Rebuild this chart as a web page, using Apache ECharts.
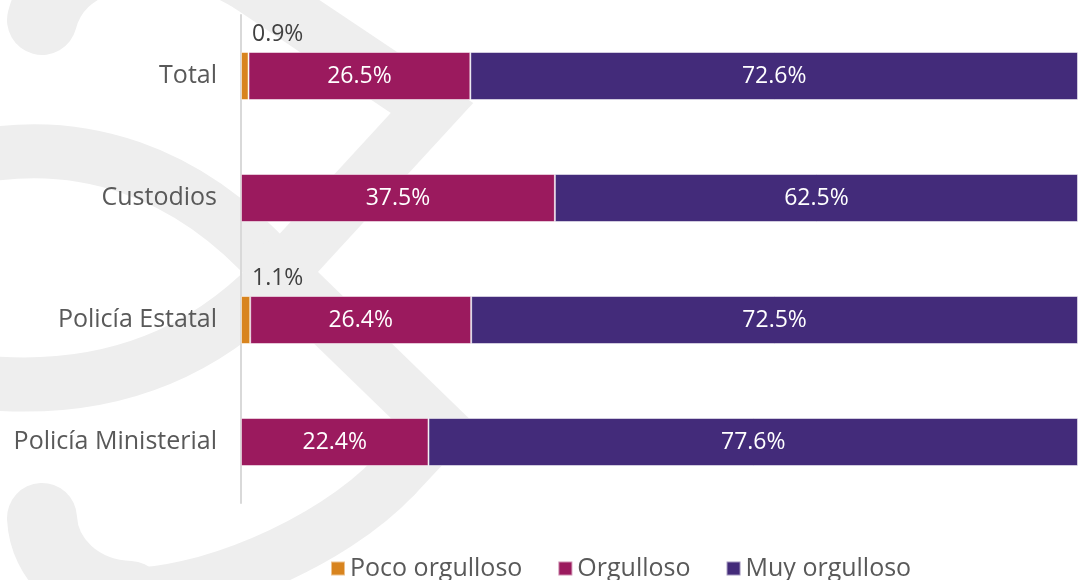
<!DOCTYPE html>
<html>
<head>
<meta charset="utf-8">
<script src="https://cdn.jsdelivr.net/npm/echarts@6/dist/echarts.min.js"></script>
<style>
  html, body { margin: 0; padding: 0; background: #ffffff; }
  #chart { width: 1078px; height: 580px; }
</style>
</head>
<body>
<div id="chart"></div>
<script>
// Categories (top to bottom) and percentage shares per response
const categories = ['Total', 'Custodios', 'Policía Estatal', 'Policía Ministerial'];
const seriesNames = ['Poco orgulloso', 'Orgulloso', 'Muy orgulloso'];
const pocoOrgulloso = [0.9, null, 1.1, null];
const orgulloso = [26.5, 37.5, 26.4, 22.4];
const muyOrgulloso = [72.6, 62.5, 72.5, 77.6];

const colors = ['#d8841e', '#9b1a5e', '#432b7a'];
const fontFamily = '"Open Sans", "Noto Sans", sans-serif';
const pct = p => (p.value == null ? '' : p.value.toFixed(1) + '%');

const chart = echarts.init(document.getElementById('chart'), null, { renderer: 'canvas' });

// Light decorative emblem behind the plot, built from thick curve strokes
const emblemColor = '#eeeeee';
function curve(x1, y1, cpx1, cpy1, cpx2, cpy2, x2, y2, w) {
  return { type: 'bezierCurve', z: -10, silent: true,
    shape: { x1, y1, cpx1, cpy1, cpx2, cpy2, x2, y2 },
    style: { stroke: emblemColor, lineWidth: w || 54, fill: null, lineCap: 'round' } };
}
function bend(points) {
  return { type: 'polyline', z: -10, silent: true, shape: { points },
    style: { stroke: emblemColor, lineWidth: 54, fill: null, lineCap: 'round', lineJoin: 'miter' } };
}
const emblem = [
  curve(42, 20, 50, -10, 70, -30, 110, -44, 70),
  curve(100, -46, 150, -58, 215, -36, 250, -14),
  bend([[250, -14], [432, 108], [272, 282]]),
  curve(272, 282, 215, 340, 120, 402, -40, 380),
  curve(-40, 160, 80, 132, 190, 172, 275, 268),
  bend([[275, 268], [440, 428], [395, 476]]),
  curve(395, 476, 330, 545, 200, 598, 120, 595),
  curve(130, 596, 80, 594, 44, 560, 42, 518, 70)
];

const barBorder = { borderColor: 'rgba(255,255,255,0.5)', borderWidth: 1 };

chart.setOption({
  animation: false,
  backgroundColor: '#ffffff',
  graphic: { elements: emblem },
  grid: { left: 241, right: 0, top: 15, bottom: 77, containLabel: false },
  legend: {
    left: 325,
    top: 551,
    itemWidth: 14,
    itemHeight: 14,
    itemGap: 35,
    icon: 'rect',
    textStyle: { color: '#595959', fontSize: 25, fontFamily: fontFamily },
    data: seriesNames
  },
  xAxis: {
    type: 'value', min: 0, max: 100,
    show: false
  },
  yAxis: {
    type: 'category',
    data: categories,
    inverse: true,
    axisLine: { show: true, lineStyle: { color: '#d9d9d9', width: 2 } },
    axisTick: { show: false },
    axisLabel: { color: '#595959', fontSize: 25, fontFamily: fontFamily, margin: 24 }
  },
  series: [
    {
      name: seriesNames[0], type: 'bar', stack: 'total', barWidth: 48,
      data: pocoOrgulloso,
      itemStyle: Object.assign({ color: colors[0] }, barBorder),
      label: {
        show: true, formatter: pct, position: [11, -6],
        align: 'left', verticalAlign: 'bottom',
        color: '#404040', fontSize: 23, fontFamily: fontFamily
      }
    },
    {
      name: seriesNames[1], type: 'bar', stack: 'total', barWidth: 48,
      data: orgulloso,
      itemStyle: Object.assign({ color: colors[1] }, barBorder),
      label: { show: true, position: 'inside', formatter: pct, color: '#ffffff', fontSize: 23, fontFamily: fontFamily }
    },
    {
      name: seriesNames[2], type: 'bar', stack: 'total', barWidth: 48,
      data: muyOrgulloso,
      itemStyle: Object.assign({ color: colors[2] }, barBorder),
      label: { show: true, position: 'inside', formatter: pct, color: '#ffffff', fontSize: 23, fontFamily: fontFamily }
    }
  ]
});
</script>
</body>
</html>
